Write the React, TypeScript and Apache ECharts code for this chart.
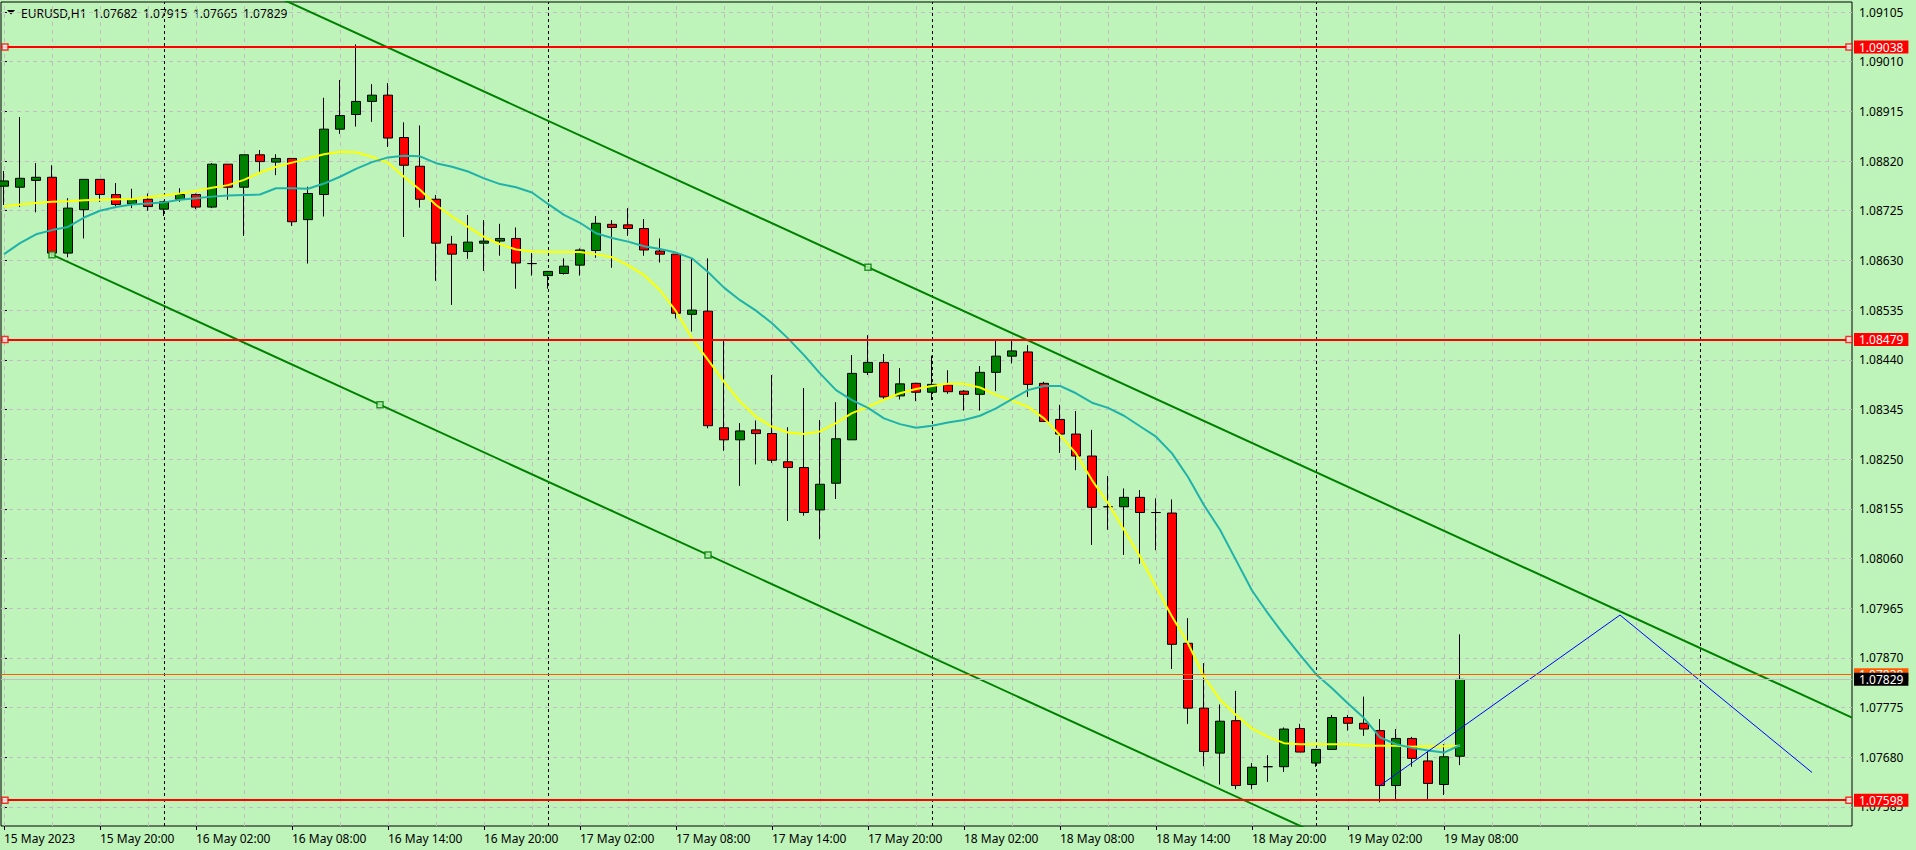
import React, { useEffect, useRef } from "react";
import * as echarts from "echarts";

// ---------- data ----------
const symbolName = "EURUSD,H1";

const opens = [
  1.08772, 1.0877, 1.08783, 1.08789, 1.08644, 1.08727, 1.08785, 1.08756, 1.08738, 1.08747,
  1.08728, 1.08747, 1.08756, 1.08732, 1.08814, 1.0877, 1.08832, 1.08818, 1.08825, 1.08708,
  1.08756, 1.08881, 1.08909, 1.08934, 1.08946, 1.08865, 1.0881, 1.08747, 1.08661, 1.08647,
  1.08663, 1.08667, 1.08672, 1.08624, 1.08601, 1.08605, 1.08621, 1.08649, 1.08699, 1.08698,
  1.08691, 1.08648, 1.08642, 1.08527, 1.08533, 1.0831, 1.08287, 1.08306, 1.08299, 1.08245,
  1.08234, 1.08153, 1.08204, 1.08287, 1.08416, 1.08435, 1.08371, 1.08395, 1.08378, 1.08392,
  1.0838, 1.08374, 1.08416, 1.08447, 1.08455, 1.08395, 1.08326, 1.08298, 1.08256, 1.08159,
  1.08159, 1.08177, 1.08148, 1.08147, 1.07898, 1.07774, 1.07688, 1.0775, 1.07628, 1.07662,
  1.07662, 1.07735, 1.07669, 1.07695, 1.07756, 1.07745, 1.07731, 1.07626, 1.07716, 1.07673,
  1.07628, 1.07682,
];
const highs = [
  1.08801, 1.08904, 1.08816, 1.08812, 1.08749, 1.08785, 1.08785, 1.08778, 1.08767, 1.08758,
  1.08744, 1.08768, 1.08758, 1.08816, 1.08814, 1.08832, 1.08841, 1.08833, 1.08825, 1.08771,
  1.08941, 1.08975, 1.09043, 1.08967, 1.08969, 1.08894, 1.08888, 1.08755, 1.08677, 1.08717,
  1.08707, 1.087, 1.08693, 1.08644, 1.0861, 1.08634, 1.08653, 1.08715, 1.08707, 1.0873,
  1.08709, 1.08672, 1.08642, 1.08634, 1.08634, 1.08478, 1.08319, 1.08324, 1.08411, 1.08311,
  1.08386, 1.08325, 1.08359, 1.08449, 1.08487, 1.08451, 1.08424, 1.08396, 1.08448, 1.0842,
  1.08382, 1.08428, 1.08476, 1.08477, 1.08468, 1.08398, 1.08354, 1.08342, 1.08306, 1.08218,
  1.08194, 1.08191, 1.08175, 1.08173, 1.07946, 1.0786, 1.07781, 1.07807, 1.07669, 1.07684,
  1.07737, 1.07744, 1.07696, 1.07761, 1.07761, 1.07796, 1.07753, 1.07734, 1.07719, 1.07691,
  1.07705, 1.07915,
];
const lows = [
  1.08736, 1.08732, 1.08722, 1.08637, 1.08636, 1.08672, 1.08742, 1.0873, 1.0873, 1.08725,
  1.08715, 1.08742, 1.08728, 1.0873, 1.08746, 1.08677, 1.08798, 1.08793, 1.08696, 1.08624,
  1.08714, 1.08872, 1.08886, 1.08895, 1.08847, 1.08675, 1.08731, 1.08591, 1.08545, 1.08633,
  1.0861, 1.08639, 1.08576, 1.08601, 1.08576, 1.08603, 1.08601, 1.08635, 1.08616, 1.08677,
  1.08639, 1.08626, 1.08519, 1.08494, 1.08309, 1.08266, 1.08199, 1.0824, 1.08243, 1.08132,
  1.08142, 1.08097, 1.08174, 1.08287, 1.08411, 1.08364, 1.08364, 1.08361, 1.08363, 1.08375,
  1.08343, 1.08343, 1.0838, 1.08433, 1.08369, 1.08322, 1.08262, 1.08229, 1.08086, 1.08115,
  1.08067, 1.0805, 1.08076, 1.07849, 1.07744, 1.07663, 1.07628, 1.07619, 1.07619, 1.07633,
  1.07652, 1.0769, 1.07662, 1.07695, 1.07731, 1.07721, 1.07594, 1.076, 1.07662, 1.076,
  1.07608, 1.07665,
];
const closes = [
  1.08782, 1.08787, 1.08789, 1.08644, 1.0873, 1.08785, 1.08756, 1.08737, 1.08746, 1.08733,
  1.08742, 1.08756, 1.08732, 1.08814, 1.0877, 1.08832, 1.08819, 1.08825, 1.08704, 1.08758,
  1.08881, 1.08907, 1.08934, 1.08946, 1.08864, 1.08812, 1.08747, 1.08663, 1.08642, 1.08665,
  1.08667, 1.08672, 1.08625, 1.08624, 1.08609, 1.08619, 1.0865, 1.08701, 1.08693, 1.08691,
  1.0865, 1.08642, 1.08529, 1.08535, 1.08314, 1.08287, 1.08304, 1.08299, 1.08248, 1.08234,
  1.08148, 1.08202, 1.08289, 1.08414, 1.08435, 1.08369, 1.08394, 1.08378, 1.08393, 1.08379,
  1.08374, 1.08416, 1.08447, 1.08457, 1.08393, 1.08322, 1.08298, 1.08256, 1.08158, 1.08159,
  1.08177, 1.08148, 1.08148, 1.07896, 1.07774, 1.07691, 1.07749, 1.07626, 1.07661, 1.07662,
  1.07734, 1.0769, 1.07695, 1.07756, 1.07745, 1.07734, 1.07626, 1.07716, 1.07678, 1.0763,
  1.07681, 1.07829,
];

// moving averages
const maFast = [
  1.08733, 1.08737, 1.0874, 1.08742, 1.08743, 1.08745, 1.08746, 1.08747, 1.08747, 1.08751,
  1.08754, 1.08758, 1.08763, 1.08769, 1.08774, 1.08784, 1.08798, 1.08809, 1.08817, 1.08825,
  1.08833, 1.08838, 1.08837, 1.08828, 1.08817, 1.0879, 1.08765, 1.08736, 1.08714, 1.08694,
  1.08675, 1.08661, 1.08651, 1.08647, 1.08646, 1.08646, 1.08646, 1.08642, 1.08636, 1.08621,
  1.08602, 1.08573, 1.08533, 1.08481, 1.0844, 1.08398, 1.0836, 1.08331, 1.08312, 1.08301,
  1.08298, 1.08303, 1.08319, 1.08338, 1.0835, 1.08364, 1.08376, 1.08384, 1.0839, 1.08394,
  1.08394, 1.08387, 1.08373, 1.08362, 1.0835, 1.08328, 1.08296, 1.08261, 1.0821, 1.08166,
  1.08115, 1.08064, 1.08006, 1.07949, 1.07898, 1.07834, 1.0779, 1.07761, 1.07735, 1.07719,
  1.07707, 1.07705, 1.07705, 1.07705, 1.07705, 1.07702, 1.07702, 1.07702, 1.077, 1.07701,
  1.07701, 1.07702,
];
const maSlow = [
  1.08642, 1.08663, 1.0868, 1.08688, 1.08694, 1.08712, 1.08725, 1.08732, 1.08737, 1.08739,
  1.08741, 1.08746, 1.08749, 1.08752, 1.08754, 1.08755, 1.08756, 1.08768, 1.08768, 1.08767,
  1.08777, 1.0879, 1.08805, 1.08818, 1.08827, 1.0883, 1.08829, 1.08816, 1.08809, 1.088,
  1.08787, 1.08776, 1.0877, 1.0876, 1.08738, 1.08717, 1.08702, 1.08682, 1.08673, 1.08666,
  1.08657, 1.08652, 1.08645, 1.08634, 1.08608, 1.08578, 1.08554, 1.08534, 1.0851, 1.08481,
  1.08449, 1.08414, 1.08382, 1.08363, 1.08348, 1.08328, 1.08317, 1.0831, 1.08314, 1.0832,
  1.08325, 1.08333, 1.08347, 1.08365, 1.08382, 1.0839, 1.0839, 1.08376, 1.08358, 1.08348,
  1.08333, 1.08313, 1.08293, 1.08261, 1.08216, 1.08162, 1.08115, 1.08057, 1.07999, 1.07955,
  1.07914, 1.07876, 1.07839, 1.07812, 1.07783, 1.07755, 1.07718, 1.07705, 1.07698, 1.07693,
  1.07689, 1.07703,
];

// bar index of each time label (1 bar = 1 hour, bar 0 = 15 May 14:00)
const xLabelIdx = [0, 6, 12, 18, 24, 30, 36, 42, 48, 54, 60, 66, 72, 78, 84, 90];
const xLabels = [
  "15 May 2023", "15 May 20:00", "16 May 02:00", "16 May 08:00", "16 May 14:00",
  "16 May 20:00", "17 May 02:00", "17 May 08:00", "17 May 14:00", "17 May 20:00",
  "18 May 02:00", "18 May 08:00", "18 May 14:00", "18 May 20:00", "19 May 02:00",
  "19 May 08:00",
];
const xGridIdx = [
  0, 3, 6, 9, 12, 15, 18, 21, 24, 27, 30, 33, 36, 39, 42, 45, 48, 51, 54, 57, 60, 63, 66, 69,
  72, 75, 78, 81, 84, 87, 90, 93, 96, 99, 102, 105, 108, 111, 114,
];
const daySeparators = [10, 34, 58, 82, 106];

const priceTicks = [
  1.07585, 1.0768, 1.07775, 1.0787, 1.07965, 1.0806, 1.08155, 1.0825, 1.08345, 1.0844,
  1.08535, 1.0863, 1.08725, 1.0882, 1.08915, 1.0901, 1.09105,
];

const levels = [1.09038, 1.08479, 1.07598];
const askPrice = 1.07838;
const bidPrice = 1.07829;

const channelUpper = [[3, 1.09331], [115.5, 1.07756]];
const channelLower = [[3, 1.08641], [115.5, 1.07066]];
const channelAnchors = [[3, 1.08641], [23.5, 1.08354], [44, 1.08067], [54, 1.08617]];
const zigzag = [[86, 1.07626], [101, 1.07952], [113, 1.07651]];
const levelAnchorBars = [0.06, 115.31];

// visible window
const X_MIN = -0.1875;
const X_MAX = 115.5;
const Y_MIN = 1.0754863;
const Y_MAX = 1.0912412;

// ---------- styles ----------
const BG = "#BEF4B9";
const GRID = "#C4BAC4";
const FONT = "'Noto Sans', 'DejaVu Sans', sans-serif";
const TITLE_X = [21, 93, 143, 193, 243];

function buildOption() {
  const last = opens.length - 1;
  const titleParts = [
    symbolName,
    opens[last].toFixed(5),
    highs[last].toFixed(5),
    lows[last].toFixed(5),
    closes[last].toFixed(5),
  ];
  const candleData = opens.map((o, i) => [i, o, closes[i], lows[i], highs[i]]);
  const levelLabel = (bg: string) => ({
    show: true,
    position: "end",
    distance: 2,
    color: "#FFFFFF",
    backgroundColor: bg,
    padding: [1, 5, 0, 5],
    fontSize: 12,
    lineHeight: 12,
    fontFamily: FONT,
  });

  return {
    animation: false,
    backgroundColor: BG,
    textStyle: { fontFamily: FONT },
    graphic: [
      {
        type: "polygon",
        shape: { points: [[7, 10], [15, 10], [11, 14.5]] },
        style: { fill: "#000" },
      },
      ...titleParts.map((t, k) => ({
        type: "text",
        x: TITLE_X[k],
        y: 13,
        style: {
          text: t,
          fill: "#000",
          fontSize: 12,
          fontFamily: FONT,
          verticalAlign: "middle",
          align: "left",
        },
      })),
    ],
    grid: {
      left: 1,
      right: 64,
      top: 2,
      bottom: 24,
      show: true,
      borderColor: "#000",
      borderWidth: 1,
      backgroundColor: "transparent",
    },
    xAxis: {
      type: "value",
      min: X_MIN,
      max: X_MAX,
      axisLine: { show: false },
      splitLine: { show: false },
      axisTick: {
        show: true,
        customValues: xLabelIdx,
        length: 4,
        lineStyle: { color: "#000" },
      },
      axisLabel: {
        customValues: xLabelIdx,
        formatter: (v: number) => {
          const k = xLabelIdx.indexOf(Math.round(v));
          return k >= 0 ? xLabels[k] : "";
        },
        align: "left",
        margin: 6,
        color: "#000",
        fontSize: 12,
        fontFamily: FONT,
      },
    },
    yAxis: {
      type: "value",
      position: "right",
      min: Y_MIN,
      max: Y_MAX,
      scale: true,
      axisLine: { show: false },
      splitLine: { show: false },
      axisTick: {
        show: true,
        customValues: priceTicks,
        length: 3,
        lineStyle: { color: "#000" },
      },
      axisLabel: {
        customValues: priceTicks,
        formatter: (v: number) => v.toFixed(5),
        margin: 7,
        color: "#000",
        fontSize: 12,
        fontFamily: FONT,
      },
    },
    series: [
      {
        name: "grid",
        type: "line",
        data: [],
        z: 1,
        silent: true,
        markLine: {
          silent: true,
          z: 1,
          precision: 6,
          symbol: ["none", "none"],
          label: { show: false },
          lineStyle: { color: GRID, type: [4, 4], width: 1 },
          data: [
            ...priceTicks.map((v) => ({ yAxis: v })),
            ...xGridIdx.map((v) => ({ xAxis: v })),
          ],
        },
      },
      {
        name: "separators",
        type: "line",
        data: [],
        z: 1,
        silent: true,
        markLine: {
          silent: true,
          z: 1,
          precision: 6,
          symbol: ["none", "none"],
          label: { show: false },
          lineStyle: { color: "#000", type: [3, 3], width: 1 },
          data: daySeparators.map((v) => ({ xAxis: v })),
        },
      },
      {
        name: "EURUSD",
        type: "candlestick",
        data: candleData,
        barWidth: 10,
        z: 3,
        itemStyle: {
          color: "#008000",
          color0: "#FF0000",
          borderColor: "#000000",
          borderColor0: "#000000",
          borderColorDoji: "#000000",
          borderWidth: 1,
        },
      },
      {
        name: "MA fast",
        type: "line",
        data: maFast.map((v, i) => [i, v]),
        showSymbol: false,
        symbol: "none",
        z: 4,
        lineStyle: { color: "#FFFF00", width: 2 },
      },
      {
        name: "MA slow",
        type: "line",
        data: maSlow.map((v, i) => [i, v]),
        showSymbol: false,
        symbol: "none",
        z: 4,
        lineStyle: { color: "#20B2AA", width: 2 },
      },
      {
        name: "channel upper",
        type: "line",
        data: channelUpper,
        symbol: "none",
        z: 5,
        lineStyle: { color: "#008000", width: 2 },
      },
      {
        name: "channel lower",
        type: "line",
        data: channelLower,
        symbol: "none",
        z: 5,
        lineStyle: { color: "#008000", width: 2 },
      },
      {
        name: "zigzag",
        type: "line",
        data: zigzag,
        symbol: "none",
        z: 5,
        lineStyle: { color: "#0000FF", width: 1 },
      },
      {
        name: "levels",
        type: "line",
        data: [],
        z: 6,
        silent: true,
        markLine: {
          silent: true,
          z: 6,
          precision: 6,
          symbol: ["none", "none"],
          data: [
            ...levels.map((v) => ({
              yAxis: v,
              lineStyle: { color: "#FF0000", width: 2, type: "solid" },
              label: { ...levelLabel("#FF0000"), formatter: v.toFixed(5) },
            })),
            {
              yAxis: askPrice,
              lineStyle: { color: "#FF5A00", width: 1, type: "solid" },
              label: { ...levelLabel("#FF5A00"), formatter: askPrice.toFixed(5) },
            },
            {
              yAxis: bidPrice,
              lineStyle: { color: "#C0C0C0", width: 1, type: "solid" },
              label: { ...levelLabel("#000000"), formatter: bidPrice.toFixed(5) },
            },
          ],
        },
      },
      {
        name: "level anchors",
        type: "scatter",
        z: 7,
        silent: true,
        symbol: "rect",
        symbolSize: 6,
        data: levels.flatMap((v) => levelAnchorBars.map((b) => [b, v])),
        itemStyle: { color: "#FFFFFF", borderColor: "#FF0000", borderWidth: 1.5 },
      },
      {
        name: "channel anchors",
        type: "scatter",
        z: 7,
        silent: true,
        symbol: "rect",
        symbolSize: 6,
        data: channelAnchors,
        itemStyle: { color: BG, borderColor: "#008000", borderWidth: 1.5 },
      },
    ],
  };
}

export default function App() {
  const ref = useRef<HTMLDivElement>(null);
  useEffect(() => {
    if (!ref.current) return;
    const chart = echarts.init(ref.current, null, { renderer: "svg" });
    chart.setOption(buildOption() as any);
    return () => chart.dispose();
  }, []);
  return (
    <div
      ref={ref}
      style={{ position: "fixed", left: 0, top: 0, width: 1916, height: 850 }}
    />
  );
}
